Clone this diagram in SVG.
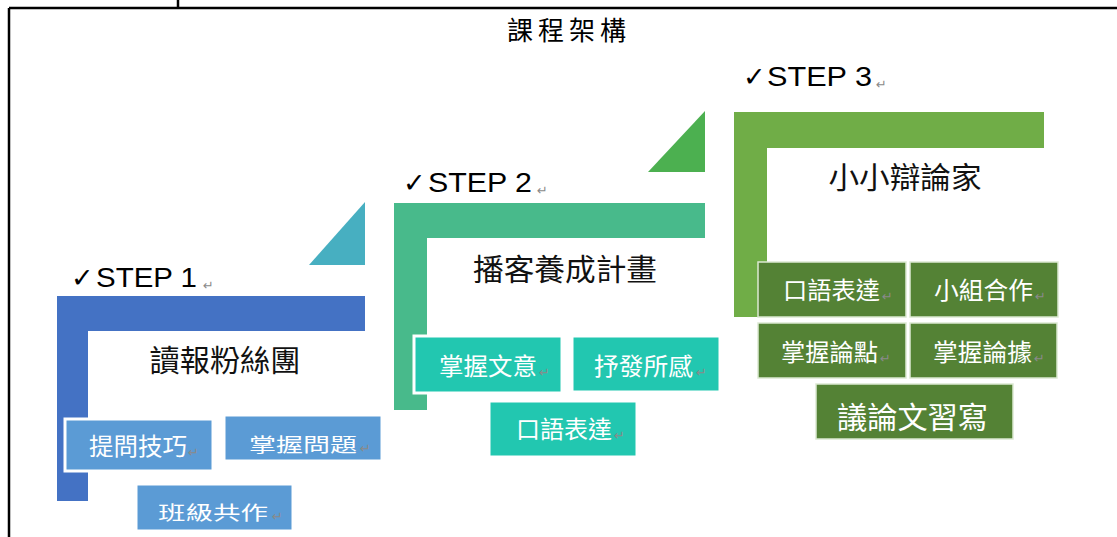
<svg xmlns="http://www.w3.org/2000/svg" width="1117" height="537" viewBox="0 0 1117 537">
<style>
.frame{stroke:#000;stroke-width:2.5;fill:none}
.title{font-family:"Noto Sans CJK TC","Noto Sans CJK SC",sans-serif;font-size:26px;fill:#000;text-anchor:middle;letter-spacing:5px}
.step{font-family:"Liberation Sans",Arial,sans-serif;font-size:27px;fill:#000}
.chk{font-family:"DejaVu Sans",sans-serif;font-size:27px;font-weight:bold;fill:#000}
.ret{font-family:"DejaVu Sans",sans-serif;font-size:13px;fill:#8a8a8a}
.head{font-family:"Noto Sans CJK TC","Noto Sans CJK SC",sans-serif;font-size:30px;fill:#111;text-anchor:middle}
.lbl{font-family:"Noto Sans CJK TC","Noto Sans CJK SC",sans-serif;font-size:24px;fill:#fff}
.big{font-family:"Noto Sans CJK TC","Noto Sans CJK SC",sans-serif;font-size:30px;fill:#fff}
.b1{fill:#5B9BD5;stroke:#fff;stroke-width:3}
.b2{fill:#22C7B0;stroke:#fff;stroke-width:3}
.b3{fill:#548235;stroke:#dbe9d2;stroke-width:1.5}
</style>
<g id="frame">
<line class="frame" x1="9" y1="8" x2="1117" y2="8"/>
<line class="frame" x1="178" y1="0" x2="178" y2="8"/>
<line class="frame" x1="9" y1="8" x2="9" y2="537"/>
<text class="title" x="569" y="40">課程架構</text>
</g>
<g id="connectors"></g>
<g id="step1">
<polygon points="309,265 365,265 365,202" fill="#47AFC1"/>
<path d="M57,296 H365 V331 H88 V501 H57 Z" fill="#4472C4"/>
<text class="chk" x="71" y="287">✓</text>
<text class="step" x="96" y="287" textLength="101" lengthAdjust="spacingAndGlyphs">STEP 1</text>
<text class="ret" x="203" y="290">↵</text>
<text class="head" x="225" y="371" textLength="151" lengthAdjust="spacingAndGlyphs">讀報粉絲團</text>
</g>
<g id="n-tiwen">
<rect class="b1" x="65" y="419" width="148" height="52"/>
<text class="lbl" x="89" y="455" textLength="98" lengthAdjust="spacingAndGlyphs">提問技巧</text>
<text class="ret" x="188" y="457">↵</text>
</g>
<g id="n-zhangwo">
<rect class="b1" x="224" y="415" width="158" height="46"/>
<text class="lbl" transform="translate(249,452) scale(1,0.8)" x="0" y="0" textLength="108" lengthAdjust="spacingAndGlyphs">掌握問題</text>
<text class="ret" x="360" y="453">↵</text>
</g>
<g id="n-banji">
<rect class="b1" x="136" y="484" width="157" height="47"/>
<text class="lbl" transform="translate(158,520) scale(1,0.8)" x="0" y="0" textLength="110" lengthAdjust="spacingAndGlyphs">班級共作</text>
<text class="ret" x="272" y="521">↵</text>
</g>
<g id="step2">
<polygon points="648,172 705,172 705,111" fill="#4CB050"/>
<path d="M394,203 H705 V238 H427 V410 H394 Z" fill="#48BA8B"/>
<text class="chk" x="403" y="192">✓</text>
<text class="step" x="428" y="192" textLength="104" lengthAdjust="spacingAndGlyphs">STEP 2</text>
<text class="ret" x="537" y="195">↵</text>
<text class="head" x="565" y="280" textLength="184" lengthAdjust="spacingAndGlyphs">播客養成計畫</text>
</g>
<g id="n-wenyi">
<rect class="b2" x="414" y="336" width="148" height="57"/>
<text class="lbl" x="439" y="375" textLength="98" lengthAdjust="spacingAndGlyphs">掌握文意</text>
<text class="ret" x="539" y="377">↵</text>
</g>
<g id="n-shufa">
<rect class="b2" x="572" y="336" width="148" height="56"/>
<text class="lbl" x="594" y="375" textLength="99" lengthAdjust="spacingAndGlyphs">抒發所感</text>
<text class="ret" x="696" y="377">↵</text>
</g>
<g id="n-kouyu2">
<rect class="b2" x="489" y="401" width="148" height="56"/>
<text class="lbl" x="516" y="438" textLength="96" lengthAdjust="spacingAndGlyphs">口語表達</text>
<text class="ret" x="614" y="440">↵</text>
</g>
<g id="step3">
<path d="M734,112 H1044 V148 H767 V317 H734 Z" fill="#70AD47"/>
<text class="chk" x="743" y="86">✓</text>
<text class="step" x="767" y="86" textLength="105" lengthAdjust="spacingAndGlyphs">STEP 3</text>
<text class="ret" x="876" y="89">↵</text>
<text class="head" x="905" y="188" textLength="153" lengthAdjust="spacingAndGlyphs">小小辯論家</text>
</g>
<g id="n-kouyu3">
<rect class="b3" x="758" y="262" width="148" height="55"/>
<text class="lbl" x="783" y="299" textLength="97" lengthAdjust="spacingAndGlyphs">口語表達</text>
<text class="ret" x="882" y="301">↵</text>
</g>
<g id="n-xiaozu">
<rect class="b3" x="910" y="262" width="148" height="55"/>
<text class="lbl" x="934" y="299" textLength="99" lengthAdjust="spacingAndGlyphs">小組合作</text>
<text class="ret" x="1035" y="301">↵</text>
</g>
<g id="n-lundian">
<rect class="b3" x="758" y="323" width="148" height="55"/>
<text class="lbl" x="781" y="361" textLength="97" lengthAdjust="spacingAndGlyphs">掌握論點</text>
<text class="ret" x="880" y="363">↵</text>
</g>
<g id="n-lunju">
<rect class="b3" x="910" y="323" width="147" height="55"/>
<text class="lbl" x="933" y="361" textLength="99" lengthAdjust="spacingAndGlyphs">掌握論據</text>
<text class="ret" x="1034" y="363">↵</text>
</g>
<g id="n-yilunwen">
<rect class="b3" x="816" y="384" width="197" height="55"/>
<text class="big" x="837" y="428" textLength="151" lengthAdjust="spacingAndGlyphs">議論文習寫</text>
</g>
</svg>
